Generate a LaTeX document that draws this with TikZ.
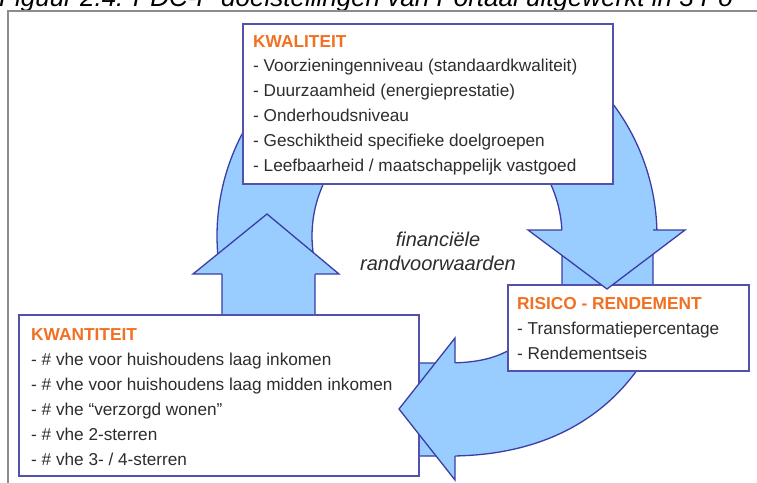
\documentclass[tikz,border=0pt]{standalone}
\usepackage{fontspec}
\setmainfont{Liberation Sans}
\definecolor{arrowfill}{RGB}{153,204,255}
\definecolor{arrowline}{RGB}{58,62,165}
\definecolor{boxedge}{RGB}{82,82,172}
\definecolor{titleorange}{RGB}{242,112,34}
\definecolor{bodytext}{RGB}{45,45,45}
\definecolor{framegray}{RGB}{140,140,140}
\begin{document}
\begin{tikzpicture}[x=1pt,y=-1pt,
  band/.style={fill=arrowfill, draw=arrowline, line width=1.3pt, line join=round},
  headfill/.style={fill=arrowfill},
  headline/.style={draw=arrowline, line width=1.3pt, line join=miter},
  goalbox/.style={draw=boxedge, line width=1.5pt, fill=white, inner sep=0pt, anchor=north west},
  boxtitle/.style={anchor=base west, inner sep=0pt, text=titleorange, font=\fontsize{17.3}{20}\selectfont\bfseries},
  itemtext/.style={anchor=base west, inner sep=0pt, text=bodytext, font=\fontsize{17.2}{20}\selectfont},
  centretext/.style={anchor=base, inner sep=0pt, text=bodytext, font=\fontsize{20}{24}\selectfont\itshape},
]
\useasboundingbox (0,0) rectangle (757,482);

% page frame and the caption line above it
\begin{scope}
  \clip (0,0) rectangle (757,482);
  \fill[white] (0,0) rectangle (757,482);
  \node[anchor=base west, inner sep=0pt, text=black,
        font=\fontsize{26}{30}\selectfont\itshape] (caption) at (-1,6)
        {Figuur 2.4: PDC-P doelstellingen van Portaal uitgewerkt in 3 Po};
  \draw[framegray, line width=2pt] (8,495) -- (8,11) -- (770,11);
\end{scope}

% left arrow: straight shaft from below, curved band above the head
\draw[band] (222,320) -- (222,262)
  -- plot[domain=174:235, samples=40, variable=\a] ({437+220*cos(\a)}, {236+220*sin(\a)})
  -- plot[domain=245:169.4, samples=40, variable=\a] ({437+125*cos(\a)}, {236+125*sin(\a)})
  -- (315,262) -- (315,320) -- cycle;
\fill[headfill] (193,274) -- (267,214) -- (339,274) -- cycle;
\draw[headline] (222,274) -- (193,274) -- (267,214) -- (339,274) -- (315,274);

% right arrow: curved band from the top box, straight shaft below the head
\draw[band]
  plot[domain=-60:3, samples=40, variable=\a] ({437+220*cos(\a)}, {236+220*sin(\a)})
  -- (653,252) -- (653,300) -- (562,300) -- (562,252)
  -- plot[domain=5.3:-65, samples=40, variable=\a] ({437+125*cos(\a)}, {236+125*sin(\a)})
  -- cycle;

% bottom arrow band
\draw[band] (405,456) -- (445,456)
  .. controls (540,457) and (610,420) .. (650,350)
  -- (530,335)
  .. controls (505,358) and (480,363) .. (445,363)
  -- (405,363) -- cycle;

% goal boxes
\node[goalbox, minimum width=370pt, minimum height=160pt] (kwaliteit) at (242,23) {};
\node[goalbox, minimum width=241pt, minimum height=86pt] (risico) at (507,284) {};

% head of the right arrow lies over the box edge
\fill[headfill] (528,230) -- (607,289) -- (685,230) -- cycle;
\draw[headline] (562,230) -- (528,230) -- (607,289) -- (685,230) -- (653,230);

\node[goalbox, minimum width=400pt, minimum height=161pt] (kwantiteit) at (18,314) {};

% head of the bottom arrow, pointing into the left box
\fill[headfill] (455,338) -- (399,409) -- (455,480) -- cycle;
\draw[headline] (455,363) -- (455,338) -- (399,409) -- (455,480) -- (455,456);

% texts
\node[boxtitle] (kwal-title) at (253,47) {KWALITEIT};
\foreach \t [count=\i] in {
  {- Voorzieningenniveau (standaardkwaliteit)},
  {- Duurzaamheid (energieprestatie)},
  {- Onderhoudsniveau},
  {- Geschiktheid specifieke doelgroepen},
  {- Leefbaarheid / maatschappelijk vastgoed}}
  \node[itemtext] (kwal-\i) at (253, {47+24.8*\i}) {\t};

\node[boxtitle] (ris-title) at (517,309) {RISICO - RENDEMENT};
\foreach \t [count=\i] in {
  {- Transformatiepercentage},
  {- Rendementseis}}
  \node[itemtext] (ris-\i) at (517, {309+25.3*\i}) {\t};

\node[boxtitle] (kwan-title) at (31,340.5) {KWANTITEIT};
\foreach \t [count=\i] in {
  {- \# vhe voor huishoudens laag inkomen},
  {- \# vhe voor huishoudens laag midden inkomen},
  {- \# vhe “verzorgd wonen”},
  {- \# vhe 2-sterren},
  {- \# vhe 3- / 4-sterren}}
  \node[itemtext] (kwan-\i) at (31, {340.5+24.9*\i}) {\t};

\node[centretext] (fin-1) at (438,246) {financiële};
\node[centretext] (fin-2) at (438,270.5) {randvoorwaarden};
\end{tikzpicture}
\end{document}
